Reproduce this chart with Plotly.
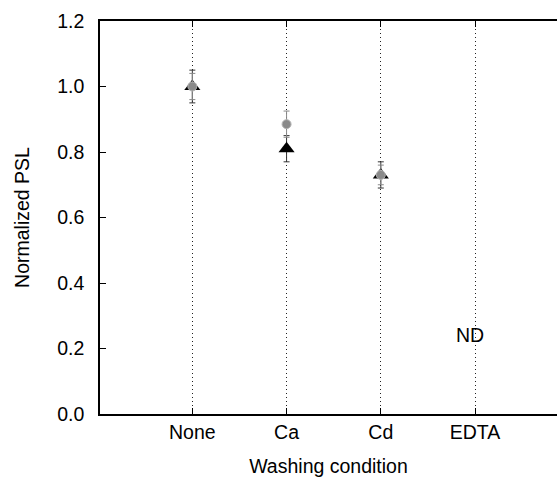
import plotly.graph_objects as go

categories = ["None", "Ca", "Cd", "EDTA"]
positions = [1, 2, 3, 4]

# Series A: black triangles
tri_vals = [1.00, 0.81, 0.73, None]
tri_err = [0.05, 0.04, 0.04, None]
# Series B: gray circles
circ_vals = [1.00, 0.885, 0.73, None]
circ_err = [0.04, 0.04, 0.03, None]

y_ticks = [0.0, 0.2, 0.4, 0.6, 0.8, 1.0, 1.2]
y_tick_labels = ["0.0", "0.2", "0.4", "0.6", "0.8", "1.0", "1.2"]
nd_label = "ND"
nd_pos = (3.95, 0.24)

font = "Liberation Sans, Arial, sans-serif"
fs = 19.5

fig = go.Figure()
fig.add_trace(go.Scatter(
    x=positions, y=tri_vals, mode="markers",
    marker=dict(symbol="triangle-up", size=14, color="black"),
    error_y=dict(type="data", array=tri_err, color="#333333", thickness=1, width=3),
    showlegend=False,
))
fig.add_trace(go.Scatter(
    x=positions, y=circ_vals, mode="markers",
    marker=dict(symbol="circle", size=9, color="#8a8a8a", line=dict(color="#b5b5b5", width=1)),
    error_y=dict(type="data", array=circ_err, color="#888888", thickness=1, width=3),
    showlegend=False,
))

fig.add_annotation(x=nd_pos[0], y=nd_pos[1], text=nd_label, showarrow=False,
                   font=dict(family=font, size=fs, color="black"))

fig.update_layout(
    width=557, height=479,
    margin=dict(l=100, r=0, t=21, b=65),
    plot_bgcolor="white", paper_bgcolor="white",
    font=dict(family=font, size=fs, color="black"),
)
fig.update_xaxes(
    range=[0.02, 4.87],
    tickvals=positions, ticktext=categories,
    showgrid=True, gridcolor="#222222", griddash="1px,3px", gridwidth=1.2,
    showline=True, linecolor="black", linewidth=1.5, mirror="ticks",
    ticks="inside", ticklen=6, tickcolor="black",
    zeroline=False,
    title=dict(text="Washing condition", font=dict(size=fs), standoff=17),
)
fig.update_yaxes(
    range=[0, 1.2],
    tickvals=y_ticks, ticktext=y_tick_labels,
    showgrid=False, zeroline=False,
    showline=True, linecolor="black", linewidth=1.5, mirror=False,
    ticks="inside", ticklen=6, tickcolor="black",
    ticklabelstandoff=10,
    title=dict(text="Normalized PSL", font=dict(size=fs), standoff=22),
)

fig.write_html("out.html")
